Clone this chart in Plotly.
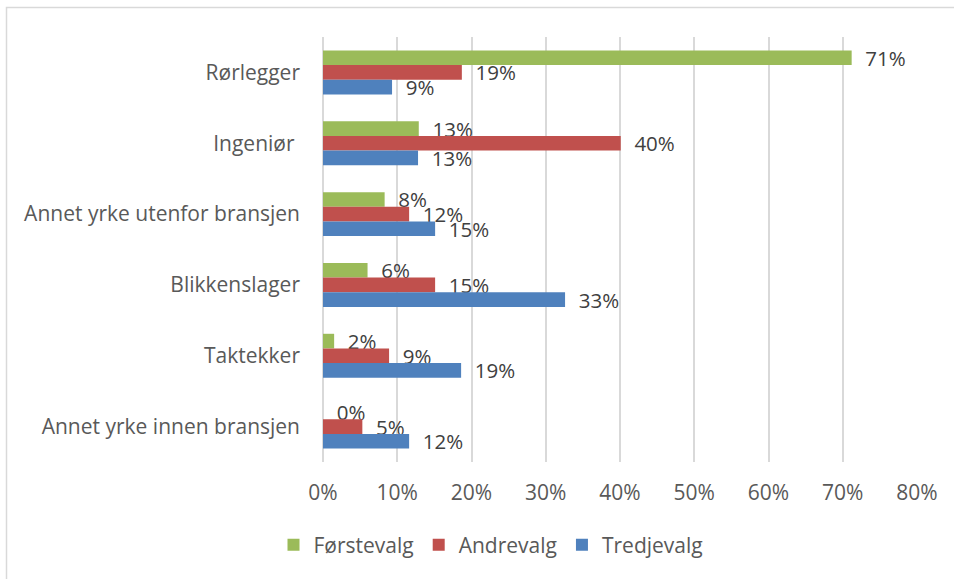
import plotly.graph_objects as go

categories = ["Rørlegger", "Ingeniør\u00a0", "Annet yrke utenfor bransjen",
              "Blikkenslager", "Taktekker", "Annet yrke innen bransjen"]
series_names = ["Førstevalg", "Andrevalg", "Tredjevalg"]
forstevalg = [71.2, 12.9, 8.3, 6.0, 1.5, 0.0]
andrevalg = [18.7, 40.1, 11.6, 15.1, 8.9, 5.3]
tredjevalg = [9.3, 12.8, 15.1, 32.6, 18.6, 11.6]
colors = ["#9BBB59", "#C0504D", "#4F81BD"]
tick_vals = [0, 10, 20, 30, 40, 50, 60, 70, 80]
tick_text = ["0%", "10%", "20%", "30%", "40%", "50%", "60%", "70%", "80%"]

FONT = "'Open Sans', Lato, sans-serif"
TXT = "#595959"

fig = go.Figure()
for name, vals, col in zip(series_names, [forstevalg, andrevalg, tredjevalg], colors):
    fig.add_trace(go.Bar(
        y=categories, x=vals, name=name, orientation="h",
        marker=dict(color=col, line=dict(width=0)),
        texttemplate="  %{x:.0f}%", textposition="outside",
        constraintext="none",
        textfont=dict(size=20.5, color="#404040", family=FONT),
        cliponaxis=False,
    ))

W, H = 954, 579
l, r, t, b = 323, 37, 37, 117
pw, ph = W - l - r, H - t - b

def px_x(x):
    return (x - l) / pw

def px_y(y):
    return (H - b - y) / ph

fig.update_layout(
    width=W, height=H,
    margin=dict(l=l, r=r, t=t, b=b, autoexpand=False),
    paper_bgcolor="white", plot_bgcolor="white",
    barmode="group", bargap=0.38, bargroupgap=0,
    font=dict(family=FONT, size=21, color=TXT),
    showlegend=True,
    legend=dict(orientation="h", x=px_x(491), xanchor="center",
                y=px_y(545), yanchor="middle",
                font=dict(size=21, color=TXT, family=FONT),
                itemwidth=30, traceorder="normal"),
    xaxis=dict(range=[0, 80], tickvals=tick_vals, ticktext=tick_text,
               showgrid=True, gridcolor="#D9D9D9", gridwidth=1.5,
               zeroline=True, zerolinecolor="#D9D9D9", zerolinewidth=1.5,
               showline=False, ticks="", ticklabelstandoff=16,
               tickfont=dict(size=21, color=TXT, family=FONT), fixedrange=True),
    yaxis=dict(autorange="reversed", showgrid=False, showline=False, ticks="",
               ticklabelstandoff=22,
               tickfont=dict(size=21, color=TXT, family=FONT), fixedrange=True),
    shapes=[dict(type="rect", xref="paper", yref="paper",
                 x0=px_x(6.5), x1=px_x(962), y0=px_y(586), y1=px_y(7.5),
                 line=dict(color="#D9D9D9", width=1.5), fillcolor="rgba(0,0,0,0)",
                 layer="below")],
)

fig.write_html("out.html", config={"displayModeBar": False},
               post_script="document.body.style.margin='0';document.body.style.overflow='hidden';")
